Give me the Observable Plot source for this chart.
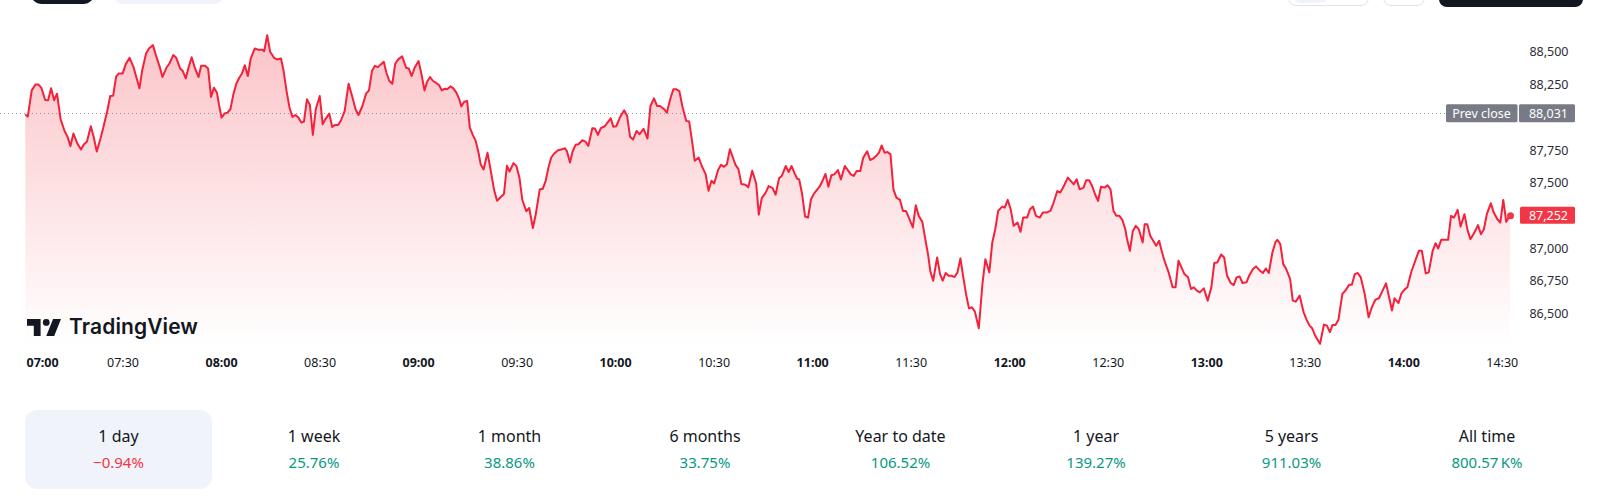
<!DOCTYPE html>
<html>
<head>
<meta charset="utf-8">
<script src="https://cdn.jsdelivr.net/npm/d3@7"></script>
<script src="https://cdn.jsdelivr.net/npm/@observablehq/plot@0.6"></script>
<style>
  html, body { margin: 0; padding: 0; background: #fff; }
  body { width: 1600px; height: 498px; overflow: hidden; position: relative; font-family: "Noto Sans", sans-serif; color: #131722; }
  .stub { position: absolute; box-sizing: border-box; }
  #chart { position: absolute; left: 0; top: 0; }
  #logo { position: absolute; left: 27px; top: 316px; display: flex; align-items: center; gap: 8px; }
  #logo span { font-family: Inter, "Noto Sans", sans-serif; font-weight: 600; font-size: 21px; letter-spacing: 0.1px; color: #131722; line-height: 22px; }
  #stats { position: absolute; left: 25px; top: 410px; display: flex; gap: 8.5px; }
  .cell { width: 187px; height: 79px; border-radius: 12px; text-align: center; box-sizing: border-box; padding-top: 15px; }
  .cell.active { background: #f0f3fa; }
  .cell .lab { font-size: 16px; line-height: 23px; color: #131722; }
  .cell .val { font-size: 15px; line-height: 22px; margin-top: 3px; }
</style>
</head>
<body>
<div class="stub" style="left:30px;top:-20px;width:65px;height:24px;border-radius:12px;background:#131722"></div>
<div class="stub" style="left:112px;top:-20px;width:113px;height:24px;border-radius:12px;background:#f0f3fa"></div>
<div class="stub" style="left:1288px;top:-20px;width:81px;height:26px;border-radius:8px;border:1px solid #e0e3eb;background:#fff"></div>
<div class="stub" style="left:1294px;top:-20px;width:33px;height:23px;border-radius:6px;background:#f0f3fa"></div>
<div class="stub" style="left:1383px;top:-20px;width:42px;height:26px;border-radius:8px;border:1px solid #e0e3eb;background:#fff"></div>
<div class="stub" style="left:1439px;top:-20px;width:144px;height:26.7px;border-radius:8px;background:#131722"></div>
<div id="chart"></div>
<div id="logo">
  <svg width="34" height="17" viewBox="2 6 30 15"><path fill="#131722" d="M14 6H2v6h6v9h6V6Zm12 15h-7l6-15h7l-6 15Zm-7-9a3 3 0 1 0 0-6 3 3 0 0 0 0 6Z"/></svg>
  <span>TradingView</span>
</div>
<div id="stats"></div>
<script>
// ---- data (minutes after 07:00, price) ----
const sessionStart = "07:00";
const minutes = [
0.4,1.0,2.2,3.4,4.2,5.1,6.3,7.2,8.1,9.0,
9.9,11.0,12.2,13.1,14.0,14.9,16.1,17.2,18.1,19.0,
20.2,21.1,22.0,23.1,24.0,25.2,26.1,27.0,27.9,28.7,
29.9,30.8,32.0,33.2,34.1,35.0,35.8,37.0,37.9,39.1,
40.0,41.2,42.0,43.2,44.1,45.3,46.2,47.4,48.2,49.1,
50.0,50.9,51.8,53.0,53.8,55.0,55.9,56.8,57.7,58.6,
59.2,60.0,60.9,61.8,62.7,63.6,64.5,65.4,66.2,67.1,
68.0,68.9,70.1,71.3,72.5,73.0,73.9,74.8,76.0,76.9,
78.1,78.9,79.8,80.7,81.6,82.5,83.4,84.3,85.1,86.0,
86.9,87.8,88.7,89.9,90.8,91.6,92.8,93.7,94.6,95.5,
96.4,97.5,98.7,99.9,100.8,101.7,102.9,104.0,104.9,105.8,
106.7,107.6,108.5,109.4,110.2,111.1,112.0,112.9,113.8,115.0,
116.2,117.0,117.9,118.8,120.0,120.9,121.8,122.6,123.5,124.4,
125.3,126.2,127.1,128.0,128.8,129.7,130.6,131.5,132.4,133.0,
133.9,134.8,135.6,136.5,137.4,138.3,138.9,139.8,141.0,141.8,
143.0,143.9,145.1,146.0,146.9,147.7,148.9,149.8,150.7,151.6,
152.8,153.7,154.8,155.7,156.9,157.8,158.7,159.6,160.4,161.3,
162.5,163.4,164.6,165.2,166.1,166.9,167.8,168.7,169.9,170.8,
171.7,172.9,173.7,174.6,175.5,176.7,177.6,178.5,179.3,180.2,
181.4,182.6,183.5,184.4,185.3,186.4,187.3,188.5,189.7,190.6,
191.7,192.6,193.5,194.7,195.6,196.8,197.6,198.5,199.4,200.3,
201.5,202.4,203.3,204.1,205.3,206.2,207.4,208.3,209.2,210.0,
211.2,212.1,213.0,213.9,214.8,215.7,216.5,217.4,218.3,219.5,
220.4,221.6,222.8,223.6,224.5,225.7,226.6,227.8,228.7,229.8,
230.6,231.8,232.7,233.6,234.5,235.3,235.9,236.8,237.7,238.6,
239.5,240.4,241.3,242.1,243.0,243.9,244.8,245.7,246.6,247.7,
248.6,249.8,250.7,251.6,252.5,253.4,254.5,255.4,256.6,257.5,
258.4,259.3,260.2,261.0,261.9,262.8,263.7,264.6,265.5,266.6,
267.5,268.4,269.3,270.5,271.4,272.3,273.4,274.3,275.2,275.8,
276.7,277.9,278.8,279.6,280.5,281.4,282.3,283.2,284.1,285.0,
285.8,286.7,287.6,288.5,289.4,290.6,291.7,292.6,293.8,294.7,
295.6,296.5,297.7,298.5,299.4,300.3,301.2,302.4,303.3,304.1,
305.3,306.2,307.1,308.0,309.2,310.1,311.2,312.4,313.3,314.5,
315.4,316.5,317.7,318.6,319.5,320.4,321.3,322.5,323.3,324.2,
325.1,326.0,326.9,327.8,328.9,329.8,330.7,331.6,332.5,333.4,
334.3,335.2,335.7,336.6,337.5,338.4,339.3,340.5,341.1,341.9,
342.8,343.7,344.6,345.5,346.4,347.3,348.4,349.6,350.5,351.4,
352.3,353.2,354.3,355.2,356.1,357.0,357.9,359.1,360.3,361.4,
362.3,363.2,364.4,365.3,366.2,367.3,368.2,369.1,370.0,370.9,
372.1,372.9,374.1,375.0,376.2,377.1,378.0,378.9,380.0,380.9,
381.5,382.4,383.3,384.2,385.4,386.2,387.1,388.3,389.5,390.4,
391.3,392.1,393.0,393.9,394.5,395.7,396.6,397.5,398.3,399.2,
400.1,401.3,402.2,403.4,404.2,405.1,406.0,406.9,408.1,409.3,
410.2,411.3,412.5,413.4,414.6,415.5,416.4,417.2,418.4,419.3,
420.2,421.1,422.3,423.4,424.6,425.5,426.7,427.6,428.8,429.7,
430.5,431.4,432.9,433.5,434.4,435.3,436.4,437.3,438.5,439.4,
440.3,441.2,442.0,442.6,443.5,444.4,445.3,446.5,447.4,448.5,
449.4,450.3,451.2,452.1,452.5
];
const prices = [
88022,88010,88210,88256,88256,88231,88137,88134,88226,88134,
88185,87989,87900,87855,87784,87880,87804,87758,87799,87817,
87936,87850,87743,87839,87926,88053,88167,88170,88315,88340,
88340,88409,88459,88388,88307,88226,88358,88490,88530,88556,
88480,88388,88312,88383,88414,88480,88459,88378,88358,88302,
88388,88464,88388,88312,88398,88398,88378,88160,88231,88193,
88104,88002,88033,88040,88066,88180,88261,88307,88337,88403,
88320,88454,88530,88520,88520,88510,88632,88505,88459,88447,
88454,88358,88205,88078,88007,88022,88002,87964,87972,88142,
88099,87870,88066,88167,87951,87989,88033,87931,87946,87946,
87982,88053,88261,88154,88066,88022,88091,88185,88210,88358,
88398,88388,88409,88429,88345,88282,88261,88414,88447,88470,
88383,88378,88320,88383,88434,88332,88210,88276,88312,88282,
88269,88251,88210,88223,88220,88241,88226,88193,88142,88088,
88124,88129,87926,87870,87824,87728,87646,87606,87733,87621,
87448,87367,87397,87418,87634,87590,87654,87631,87545,87372,
87286,87311,87158,87265,87453,87458,87519,87626,87697,87728,
87753,87758,87768,87743,87659,87743,87794,87799,87829,87819,
87786,87921,87918,87870,87921,87936,87966,87997,87933,87936,
88007,88058,88015,87855,87834,87900,87875,87916,87842,88091,
88149,88091,88091,88068,88040,88160,88218,88218,88205,88091,
87977,87972,87819,87672,87697,87634,87570,87443,87519,87499,
87601,87641,87626,87646,87761,87697,87641,87608,87494,87489,
87469,87596,87499,87260,87387,87428,87479,87463,87413,87540,
87556,87632,87586,87632,87576,87535,87530,87416,87246,87238,
87378,87421,87449,87474,87518,87571,87474,87561,87568,87601,
87530,87632,87601,87568,87556,87594,87594,87695,87744,87678,
87688,87708,87734,87789,87734,87739,87721,87454,87390,87373,
87289,87289,87238,87162,87332,87251,87205,87073,86946,86832,
86755,86933,86806,86755,86814,86793,86793,86783,86819,86926,
86793,86654,86544,86552,86519,86392,86730,86920,86819,87048,
87149,87289,87322,87314,87373,87302,87175,87200,87129,87238,
87238,87302,87322,87251,87238,87276,87276,87289,87347,87441,
87429,87479,87543,87518,87492,87530,87454,87467,87523,87523,
87479,87416,87365,87474,87467,87485,87454,87289,87251,87251,
87220,87149,87078,86984,87136,87175,87149,87048,87187,87187,
87098,87060,87022,87060,86971,86895,86819,86705,86705,86908,
86857,86806,86781,86692,86705,86679,86666,86697,86603,86705,
86890,86895,86956,86933,86793,86738,86722,86781,86788,86738,
86743,86793,86844,86865,86832,86814,86849,86814,86971,87048,
87068,87035,86882,86844,86768,86603,86595,86641,86514,86458,
86412,86392,86336,86298,86273,86420,86412,86362,86417,86417,
86456,86654,86679,86725,86725,86806,86814,86781,86654,86476,
86547,86608,86623,86672,86735,86633,86527,86621,86585,86659,
86687,86705,86824,86900,86984,86984,86811,86819,86984,87042,
87002,87068,87068,87068,87251,87238,87297,87170,87264,87144,
87073,87111,87149,87180,87111,87149,87264,87347,87276,87225,
87200,87373,87205,87246,87252
];
const prevClose = 88031;
const yTickValues = [88500, 88250, 87750, 87500, 87000, 86750, 86500];
const xTickLabels = ["07:00","07:30","08:00","08:30","09:00","09:30","10:00","10:30","11:00","11:30","12:00","12:30","13:00","13:30","14:00","14:30"];
const yDomain = [86260, 88668];

const periodLabels = ["1 day","1 week","1 month","6 months","Year to date","1 year","5 years","All time"];
const periodChanges = [-0.94, 25.76, 38.86, 33.75, 106.52, 139.27, 911.03, 800570];

// ---- build ----
const FONT = '"Noto Sans", sans-serif';
const toDate = hm => { const [h, m] = hm.split(":").map(Number); return new Date(Date.UTC(2024, 0, 1, h, m)); };
const t0 = toDate(sessionStart);
const data = minutes.map((m, i) => ({ t: new Date(+t0 + m * 60000), p: prices[i] }));
const last = data[data.length - 1];
const fmt = d3.format(",");
const ticks = xTickLabels.map(s => ({ s, t: toDate(s), hour: s.endsWith(":00") }));

const NS = "http://www.w3.org/2000/svg";
function el(tag, attrs, text) {
  const e = document.createElementNS(NS, tag);
  for (const k in attrs) e.setAttribute(k, attrs[k]);
  if (text != null) e.textContent = text;
  return e;
}

const gradientDefs = (index, scales, values, dims) => {
  const defs = el("defs", {});
  const g = el("linearGradient", { id: "tvFill", x1: 0, x2: 0, y1: dims.marginTop, y2: dims.height - dims.marginBottom, gradientUnits: "userSpaceOnUse" });
  g.append(el("stop", { offset: "0", "stop-color": "#f23645", "stop-opacity": 0.3 }));
  g.append(el("stop", { offset: "1", "stop-color": "#f23645", "stop-opacity": 0 }));
  defs.append(g);
  return defs;
};

const prevCloseLine = (index, scales) => {
  const y = Math.round(scales.y(prevClose)) + 0.5;
  return el("line", { x1: 0, x2: 1446, y1: y, y2: y, stroke: "#9598a1", "stroke-width": 1, "stroke-dasharray": "1 3" });
};

const priceTags = (index, scales) => {
  const g = el("g", { "font-family": FONT, "font-size": 12.5 });
  const yp = scales.y(prevClose);
  g.append(el("rect", { x: 1446, y: yp - 9, width: 71.5, height: 18, rx: 1.5, fill: "#787b86" }));
  g.append(el("rect", { x: 1519, y: yp - 9, width: 56, height: 18, rx: 1.5, fill: "#787b86" }));
  g.append(el("text", { x: 1481.5, y: yp, "text-anchor": "middle", dy: "0.35em", fill: "#fff" }, "Prev close"));
  g.append(el("text", { x: 1568, y: yp, "text-anchor": "end", dy: "0.35em", fill: "#fff" }, fmt(prevClose)));
  const yl = scales.y(last.p);
  g.append(el("rect", { x: 1520, y: yl - 8.5, width: 55, height: 17, rx: 1.5, fill: "#f23645" }));
  g.append(el("text", { x: 1568, y: yl, "text-anchor": "end", dy: "0.35em", fill: "#fff" }, fmt(last.p)));
  return g;
};

const chart = Plot.plot({
  width: 1600,
  height: 380,
  marginTop: 30,
  marginBottom: 35,
  marginLeft: 24,
  marginRight: 90,
  style: { fontFamily: FONT, background: "transparent", overflow: "visible" },
  x: { type: "utc", domain: [t0, last.t], axis: null },
  y: { domain: yDomain, axis: null },
  marks: [
    gradientDefs,
    Plot.areaY(data, { x: "t", y1: yDomain[0], y2: "p", fill: "url(#tvFill)" }),
    prevCloseLine,
    Plot.line(data, { x: "t", y: "p", stroke: "#f5213b", strokeWidth: 2, strokeLinejoin: "round" }),
    Plot.dot([last], { x: "t", y: "p", r: 3.5, fill: "#f23645" }),
    Plot.text(yTickValues, { y: d => d, text: d => fmt(d), frameAnchor: "right", textAnchor: "end", dx: 58, fill: "#2a2e39", fontSize: 12.5 }),
    priceTags,
    Plot.text(ticks.filter((d, i) => i === 0), { x: "t", text: "s", frameAnchor: "bottom", dy: 21, textAnchor: "start", dx: 2, fontWeight: 700, fill: "#131722", fontSize: 12.5 }),
    Plot.text(ticks.filter((d, i) => i > 0 && d.hour), { x: "t", text: "s", frameAnchor: "bottom", dy: 21, fontWeight: 700, fill: "#131722", fontSize: 12.5 }),
    Plot.text(ticks.filter(d => !d.hour), { x: "t", text: "s", frameAnchor: "bottom", dy: 21, fontWeight: 400, fill: "#131722", fontSize: 12.5 })
  ]
});
document.getElementById("chart").append(chart);

// ---- performance row ----
const fmtChange = v => {
  const s = Math.abs(v) >= 1000 ? (Math.abs(v) / 1000).toFixed(2) + "\u202FK%" : Math.abs(v).toFixed(2) + "%";
  return (v < 0 ? "\u2212" : "") + s;
};
const stats = document.getElementById("stats");
periodLabels.forEach((lab, i) => {
  const c = document.createElement("div");
  c.className = "cell" + (i === 0 ? " active" : "");
  const v = periodChanges[i];
  c.innerHTML = `<div class="lab">${lab}</div><div class="val" style="color:${v < 0 ? "#f23645" : "#089981"}">${fmtChange(v)}</div>`;
  stats.append(c);
});
</script>
</body>
</html>
